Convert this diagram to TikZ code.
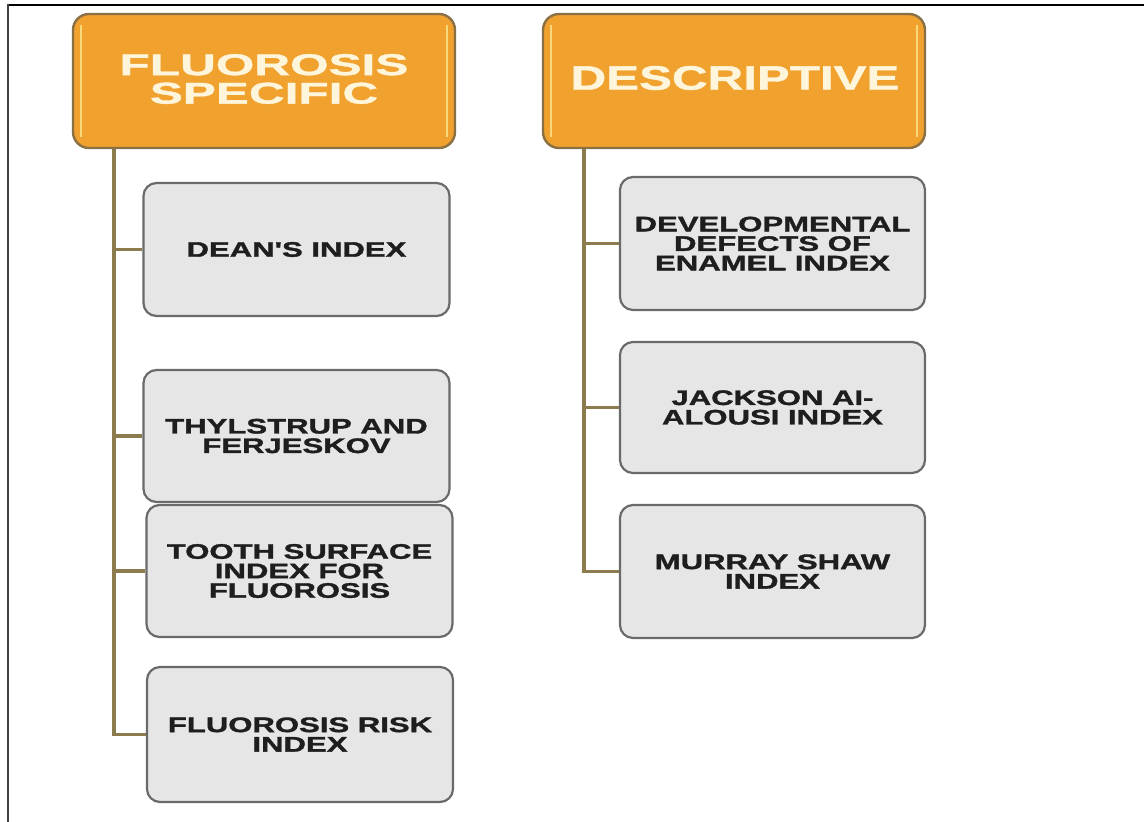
\documentclass[tikz,border=0pt]{standalone}
\usepackage{fontspec}
\newfontfamily\fHa{Liberation Sans}[FakeStretch=1.65,FakeBold=1.2]
\newfontfamily\fHb{Liberation Sans}[FakeStretch=1.45,FakeBold=1.2]
\newfontfamily\fBx{Liberation Sans}[FakeStretch=1.48,FakeBold=1.6]
\definecolor{hdfill}{HTML}{F0A12E}
\definecolor{hdline}{HTML}{8A7045}
\definecolor{hdgloss}{HTML}{F9D77A}
\definecolor{hdtext}{HTML}{FFF5DA}
\definecolor{bxfill}{HTML}{E6E6E6}
\definecolor{bxline}{HTML}{6A6A6A}
\definecolor{conn}{HTML}{8C7B4C}
\definecolor{bxtext}{HTML}{1E1E1E}
\begin{document}
\begin{tikzpicture}[x=1pt,y=-1pt,
  header/.style={draw=hdline,fill=hdfill,line width=2.4pt,rounded corners=16pt,
    minimum width=382pt,minimum height=134pt,inner sep=0pt,align=center,text=hdtext},
  itembox/.style={draw=bxline,fill=bxfill,line width=2.2pt,rounded corners=13pt,
    minimum width=306pt,minimum height=132pt,inner sep=0pt,align=center,text=bxtext,
    font=\fBx\bfseries\fontsize{21}{19.5}\selectfont},
  link/.style={draw=conn,line width=3.4pt}]
\useasboundingbox (0,0) rectangle (1144,822);
\fill[white] (0,0) rectangle (1144,822);
% frame
\draw[black,line width=2pt] (8,5) -- (1144,5);
\draw[black!75,line width=2pt] (8,4) -- (8,822);

% headers
\node[header] (h1) at (264,81) {};
\node[header] (h2) at (734,81) {};
\foreach \n in {h1,h2}{
  \draw[hdgloss,line width=2.5pt] ([xshift=9pt,yshift=-12pt]\n.north west) -- ([xshift=9pt,yshift=12pt]\n.south west);
  \draw[hdgloss,line width=2.5pt] ([xshift=-9pt,yshift=-12pt]\n.north east) -- ([xshift=-9pt,yshift=12pt]\n.south east);
}
\node[text=hdtext,align=center,font=\fHa\bfseries\fontsize{30}{28.5}\selectfont] (t1) at (264,79) {FLUOROSIS\\SPECIFIC};
\node[text=hdtext,align=center,font=\fHb\bfseries\fontsize{34}{30}\selectfont] (t2) at (735,78) {DESCRIPTIVE};

% trunk coordinates
\coordinate (tL) at (114,0);
\coordinate (tR) at (584,0);

% left boxes
\node[itembox,minimum height=133pt] (dean) at (296.5,249.5) {DEAN'S INDEX};
\node[itembox] (thyl) at (296.5,436) {THYLSTRUP AND\\FERJESKOV};
\node[itembox] (tooth) at (299.5,571) {TOOTH SURFACE\\INDEX FOR\\FLUOROSIS};
\node[itembox,minimum height=135pt] (risk) at (300,734.5) {FLUOROSIS RISK\\INDEX};

% right boxes
\node[itembox,minimum width=305pt,minimum height=133pt] (dde) at (772.5,243.5) {DEVELOPMENTAL\\DEFECTS OF\\ENAMEL INDEX};
\node[itembox,minimum width=305pt,minimum height=131pt] (jack) at (772.5,407.5) {JACKSON AI-\\ALOUSI INDEX};
\node[itembox,minimum width=305pt,minimum height=133pt] (mur) at (772.5,571.5) {MURRAY SHAW\\INDEX};

% connectors
\draw[link] (h1.south -| tL) |- (risk.west);
\foreach \b in {dean,thyl,tooth}{\draw[link] (tL |- \b.west) -- (\b.west);}
\draw[link] (h2.south -| tR) |- (mur.west);
\foreach \b in {dde,jack}{\draw[link] (tR |- \b.west) -- (\b.west);}
\end{tikzpicture}
\end{document}
